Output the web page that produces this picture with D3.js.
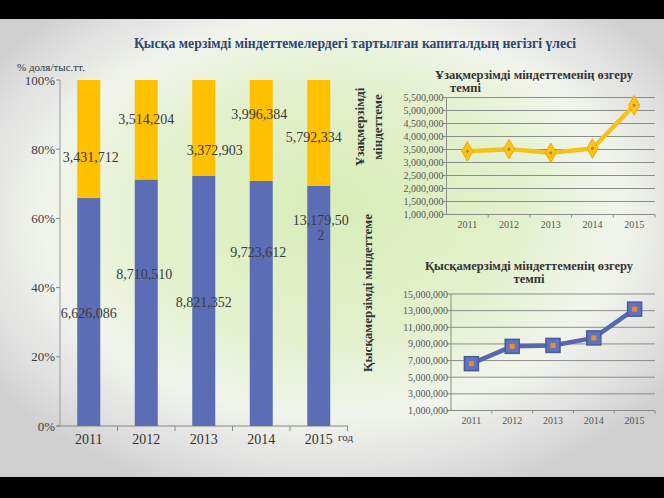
<!DOCTYPE html>
<html>
<head>
<meta charset="utf-8">
<script src="https://cdn.jsdelivr.net/npm/d3@7"></script>
<style>
  html, body { margin: 0; padding: 0; background: #000; }
  .viz { width: 664px; height: 498px; }
  text { font-family: "Liberation Serif", "DejaVu Serif", serif; }
</style>
</head>
<body>
<div class="viz"></div>
<script>
var years = ["2011", "2012", "2013", "2014", "2015"];
var shortTerm = [6626086, 8710510, 8821352, 9723612, 13179502];
var longTerm = [3431712, 3514204, 3372903, 3996384, 5792334];
// the small long-term line chart does not show the bar values for 2014-2015
var longTermLine = [3431712, 3514204, 3372903, 3540000, 5200000];
var shortTermLine = [6626086, 8710510, 8821352, 9723612, 13179502];
var pctTicks = [0, 0.2, 0.4, 0.6, 0.8, 1];
var longTicks = [1000000, 1500000, 2000000, 2500000, 3000000, 3500000, 4000000, 4500000, 5000000, 5500000];
var shortTicks = [1000000, 3000000, 5000000, 7000000, 9000000, 11000000, 13000000, 15000000];

var W = 664, H = 498;
var fmt = d3.format(",");
var svg = d3.select(".viz").append("svg").attr("width", W).attr("height", H);

// background
var defs = svg.append("defs");
var rg = defs.append("radialGradient").attr("id", "bg")
  .attr("cx", "50%").attr("cy", "45%").attr("r", "62%")
  .attr("fx", "50%").attr("fy", "40%");
rg.append("stop").attr("offset", "0%").attr("stop-color", "#d8edb8");
rg.append("stop").attr("offset", "45%").attr("stop-color", "#e3f1cd");
rg.append("stop").attr("offset", "70%").attr("stop-color", "#f1f4ec");
rg.append("stop").attr("offset", "88%").attr("stop-color", "#e0e0e0");
rg.append("stop").attr("offset", "100%").attr("stop-color", "#d0d0d0");
svg.append("rect").attr("width", W).attr("height", H).attr("fill", "#000");
svg.append("rect").attr("y", 19).attr("width", W).attr("height", 458).attr("fill", "url(#bg)");

svg.append("text")
  .attr("x", 355).attr("y", 48)
  .attr("text-anchor", "middle")
  .attr("font-size", 13.7).attr("font-weight", "bold").attr("fill", "#2d4774")
  .text("Қысқа мерзімді міндеттемелердегі тартылған капиталдың негізгі үлесі");

// ---------- stacked percent bars ----------
var x = d3.scaleBand().domain(years).range([60, 347.5]).paddingInner(0.6).paddingOuter(0.3);
var y = d3.scaleLinear().domain([0, 1]).range([426, 80]);

var gA = svg.append("g");
gA.append("line").attr("x1", 60).attr("x2", 60).attr("y1", 80).attr("y2", 426).attr("stroke", "#999");
gA.append("line").attr("x1", 57).attr("x2", 348).attr("y1", 426).attr("y2", 426).attr("stroke", "#888");
gA.selectAll(".ytk").data(pctTicks).enter().append("line")
  .attr("x1", 56).attr("x2", 60).attr("y1", function (d) { return y(d); }).attr("y2", function (d) { return y(d); })
  .attr("stroke", "#888");
gA.selectAll(".ylb").data(pctTicks).enter().append("text")
  .attr("x", 55).attr("y", function (d) { return y(d); }).attr("dy", "0.35em")
  .attr("text-anchor", "end").attr("font-size", 13).attr("fill", "#404040")
  .text(function (d) { return Math.round(d * 100) + "%"; });
var step = x.step();
gA.selectAll(".xtk").data(years).enter().append("line")
  .attr("x1", function (d) { return x(d) - x.bandwidth() * 0.75 + step; })
  .attr("x2", function (d) { return x(d) - x.bandwidth() * 0.75 + step; })
  .attr("y1", 426).attr("y2", 431).attr("stroke", "#888");
gA.selectAll(".xlb").data(years).enter().append("text")
  .attr("x", function (d) { return x(d) + x.bandwidth() / 2; }).attr("y", 444)
  .attr("text-anchor", "middle").attr("font-size", 14).attr("fill", "#333")
  .text(function (d) { return d; });
gA.append("text").attr("x", 338).attr("y", 441).attr("font-size", 11).attr("fill", "#333").text("год");
gA.append("text").attr("x", 17).attr("y", 71).attr("font-size", 11).attr("fill", "#333").text("% доля/тыс.тт.");

var share = years.map(function (d, i) { return shortTerm[i] / (shortTerm[i] + longTerm[i]); });
gA.selectAll(".bb").data(years).enter().append("rect")
  .attr("x", function (d) { return x(d); }).attr("width", x.bandwidth())
  .attr("y", function (d, i) { return y(share[i]); })
  .attr("height", function (d, i) { return y(0) - y(share[i]); })
  .attr("fill", "#5b6db4");
gA.selectAll(".yb").data(years).enter().append("rect")
  .attr("x", function (d) { return x(d); }).attr("width", x.bandwidth())
  .attr("y", y(1))
  .attr("height", function (d, i) { return y(share[i]) - y(1); })
  .attr("fill", "#ffc000");

// labels were dragged around by hand in the original
var yellowNudge = [[2, 18], [0, -11], [11, 22], [-2, -16], [-5, 4]];
var blueNudge = [[0, 1], [-2, -29], [0, 1], [-3, -51], [2, -86]];
years.forEach(function (d, i) {
  var cx = x(d) + x.bandwidth() / 2;
  gA.append("text")
    .attr("x", cx + yellowNudge[i][0]).attr("y", (y(1) + y(share[i])) / 2 + yellowNudge[i][1]).attr("dy", "0.35em")
    .attr("text-anchor", "middle").attr("font-size", 14).attr("fill", "#3a3a3a")
    .text(fmt(longTerm[i]));
  var s = fmt(shortTerm[i]);
  var t = gA.append("text")
    .attr("x", cx + blueNudge[i][0]).attr("y", (y(share[i]) + y(0)) / 2 + blueNudge[i][1]).attr("dy", "0.35em")
    .attr("text-anchor", "middle").attr("font-size", 14).attr("fill", "#3a3a3a");
  if (s.length > 9) {
    t.text(s.slice(0, 9));
    gA.append("text")
      .attr("x", cx + blueNudge[i][0]).attr("y", (y(share[i]) + y(0)) / 2 + blueNudge[i][1] + 15).attr("dy", "0.35em")
      .attr("text-anchor", "middle").attr("font-size", 14).attr("fill", "#3a3a3a")
      .text(s.slice(9));
  } else {
    t.text(s);
  }
});

// ---------- small line charts ----------
function lineChart(opt) {
  var g = svg.append("g");
  var lx = d3.scalePoint().domain(years).range([opt.x0, opt.x1]).padding(0.5);
  var ly = d3.scaleLinear().domain([opt.ticks[0], opt.ticks[opt.ticks.length - 1]]).range([opt.y0, opt.y1]);
  g.selectAll(".grid").data(opt.ticks.slice(1)).enter().append("line")
    .attr("x1", opt.x0).attr("x2", opt.x1)
    .attr("y1", function (d) { return ly(d); }).attr("y2", function (d) { return ly(d); })
    .attr("stroke", "#8c8c8c").attr("stroke-width", 1);
  g.append("line").attr("x1", opt.x0).attr("x2", opt.x0).attr("y1", opt.y0).attr("y2", opt.y1).attr("stroke", "#8c8c8c");
  g.append("line").attr("x1", opt.x0).attr("x2", opt.x1).attr("y1", opt.y0).attr("y2", opt.y0).attr("stroke", "#8c8c8c");
  g.selectAll(".tk").data(opt.ticks).enter().append("line")
    .attr("x1", opt.x0 - 4).attr("x2", opt.x0)
    .attr("y1", function (d) { return ly(d); }).attr("y2", function (d) { return ly(d); })
    .attr("stroke", "#8c8c8c");
  g.selectAll(".tl").data(opt.ticks).enter().append("text")
    .attr("x", opt.x0 - 3).attr("y", function (d) { return ly(d); }).attr("dy", "0.35em")
    .attr("text-anchor", "end").attr("font-size", 10).attr("fill", "#555")
    .text(function (d) { return fmt(d); });
  var st = lx.step();
  g.selectAll(".xt").data(years).enter().append("line")
    .attr("x1", function (d) { return lx(d) + st / 2; }).attr("x2", function (d) { return lx(d) + st / 2; })
    .attr("y1", opt.y0).attr("y2", opt.y0 + 3).attr("stroke", "#8c8c8c");
  g.selectAll(".xl").data(years).enter().append("text")
    .attr("x", function (d) { return lx(d); }).attr("y", opt.y0 + 13)
    .attr("text-anchor", "middle").attr("font-size", 10).attr("fill", "#555")
    .text(function (d) { return d; });
  opt.title.forEach(function (t, k) {
    g.append("text").attr("x", opt.titleX[k]).attr("y", opt.titleY + k * 13)
      .attr("text-anchor", opt.titleAnchor[k]).attr("font-size", 12.5).attr("font-weight", "bold").attr("fill", "#333")
      .text(t);
  });
  var line = d3.line().x(function (d, i) { return lx(years[i]); }).y(function (d) { return ly(d); });
  g.append("path").datum(opt.values).attr("d", line)
    .attr("fill", "none").attr("stroke", opt.color).attr("stroke-width", 4.5).attr("stroke-linejoin", "round");
  return { g: g, x: lx, y: ly };
}

var chartLong = lineChart({
  x0: 446.5, x1: 655, y0: 214.5, y1: 97.5, ticks: longTicks, values: longTermLine, color: "#f4c21a",
  title: ["Ұзақмерзімді міндеттеменің өзгеру", "темпі"], titleX: [534, 450], titleAnchor: ["middle", "start"], titleY: 79
});
chartLong.g.selectAll(".mk").data(longTermLine).enter().append("path")
  .attr("d", d3.symbol(d3.symbolDiamond, 110))
  .attr("transform", function (d, i) { return "translate(" + chartLong.x(years[i]) + "," + chartLong.y(d) + ")"; })
  .attr("fill", "#ffc21c").attr("stroke", "#e8ad00").attr("stroke-width", 1);
chartLong.g.selectAll(".mc").data(longTermLine).enter().append("circle")
  .attr("cx", function (d, i) { return chartLong.x(years[i]); }).attr("cy", function (d) { return chartLong.y(d); })
  .attr("r", 1.5).attr("fill", "#b8860b");

var chartShort = lineChart({
  x0: 451, x1: 655, y0: 410.5, y1: 294, ticks: shortTicks, values: shortTermLine, color: "#5868ac",
  title: ["Қысқамерзімді міндеттеменің өзгеру", "темпі"], titleX: [529, 529], titleAnchor: ["middle", "middle"], titleY: 270
});
chartShort.g.selectAll(".mk").data(shortTermLine).enter().append("rect")
  .attr("x", function (d, i) { return chartShort.x(years[i]) - 7; }).attr("y", function (d) { return chartShort.y(d) - 7; })
  .attr("width", 14).attr("height", 14)
  .attr("fill", "#6273b6").attr("stroke", "#4a5aa0").attr("stroke-width", 1.5);
chartShort.g.selectAll(".mc").data(shortTermLine).enter().append("rect")
  .attr("x", function (d, i) { return chartShort.x(years[i]) - 2.5; }).attr("y", function (d) { return chartShort.y(d) - 2.5; })
  .attr("width", 5).attr("height", 5).attr("fill", "#ea8a3a");

// rotated side labels
svg.append("text").attr("transform", "translate(364,127) rotate(-90)")
  .attr("text-anchor", "middle").attr("font-size", 13).attr("font-weight", "bold").attr("fill", "#333")
  .text("Ұзақмерзімді");
svg.append("text").attr("transform", "translate(382,127) rotate(-90)")
  .attr("text-anchor", "middle").attr("font-size", 13).attr("font-weight", "bold").attr("fill", "#333")
  .text("міндеттеме");
svg.append("text").attr("transform", "translate(372,293) rotate(-90)")
  .attr("text-anchor", "middle").attr("font-size", 13).attr("font-weight", "bold").attr("fill", "#333")
  .text("Қысқамерзімді міндеттеме");
</script>
</body>
</html>
